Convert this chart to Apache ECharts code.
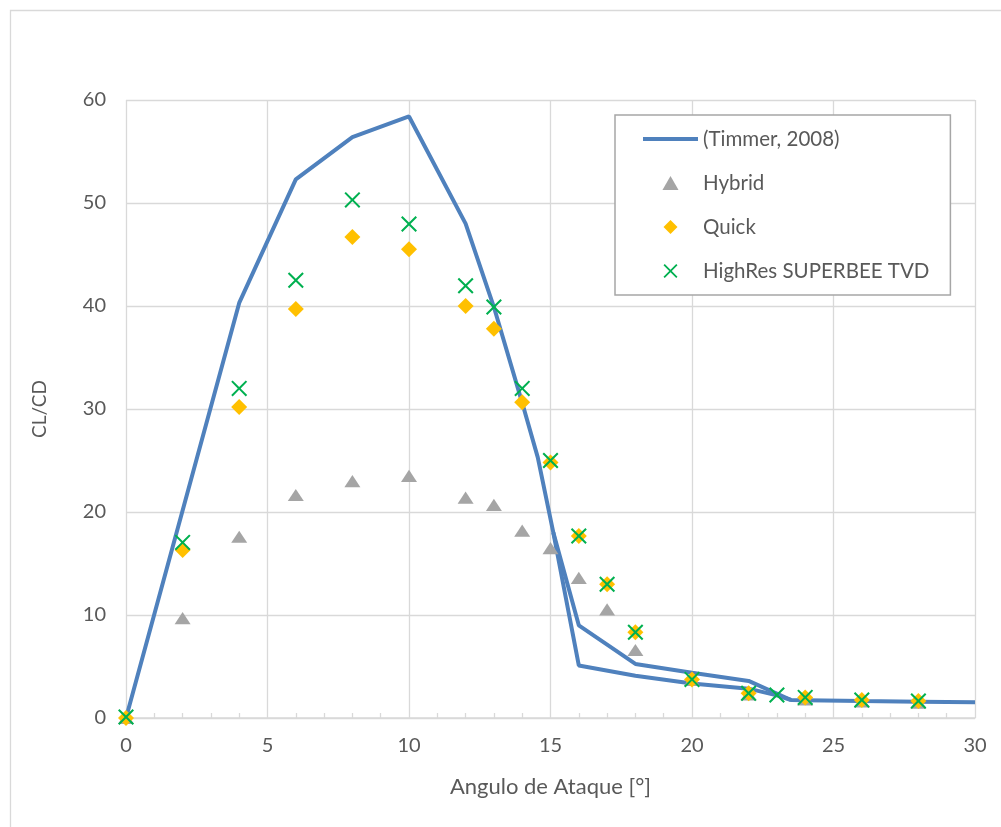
<!DOCTYPE html>
<html>
<head>
<meta charset="utf-8">
<script src="https://cdn.jsdelivr.net/npm/echarts@6/dist/echarts.min.js"></script>
<style>html,body{margin:0;padding:0;background:#fff}#c{width:1001px;height:827px}</style>
</head>
<body>
<div id="c"></div>
<script>
// Timmer (2008) reference curve: main branch and return branch of the loop
const timmerMain = [[0,0],[4,40.3],[6,52.3],[8,56.4],[10,58.4],[12,48.0],[13,39.9],[14,30.6],[14.55,25.3],[15.1,18.0],[16,9.0],[18,5.25],[20,4.4],[22,3.6],[23.5,1.75],[24,1.73],[26,1.65],[28,1.58],[30,1.52]];
const timmerLoop = [[15.1,18.0],[16,5.1],[18,4.1],[20,3.35],[22,2.85],[23,2.2],[23.5,1.75]];
const angles = [0,2,4,6,8,10,12,13,14,15,16,17,18,20,22,24,26,28];
const hybrid = [0,9.7,17.6,21.65,23.0,23.5,21.4,20.7,18.2,16.5,13.6,10.55,6.6,3.7,2.3,1.8,1.6,1.5];
const quick = [0,16.3,30.2,39.7,46.7,45.5,40.0,37.8,30.65,24.8,17.67,12.98,8.32,3.75,2.4,2.0,1.75,1.65];
const highAngles = [0,2,4,6,8,10,12,13,14,15,16,17,18,20,22,23,24,26,28];
const highres = [0.1,17.05,32.0,42.5,50.3,47.96,41.97,39.9,32.0,25.0,17.67,12.98,8.32,3.75,2.4,2.23,2.0,1.75,1.65];
const xTicks = [0,5,10,15,20,25,30];
const yTicks = [0,10,20,30,40,50,60];

const names = ['(Timmer, 2008)','Hybrid','Quick','HighRes SUPERBEE TVD'];
const FONT = 'Lato';
const TXT = '#595959';
const GRID = '#d9d9d9';
const xPath = 'path://M0,9 L9,0 L50,41 L91,0 L100,9 L59,50 L100,91 L91,100 L50,59 L9,100 L0,91 L41,50 Z';
const triPath = 'path://M50,0 L100,87 L0,87 Z';
const diaPath = 'path://M50,0 L100,50 L50,100 L0,50 Z';
const linePath = 'path://M0,0 H100 V7.3 H0 Z';

const chart = echarts.init(document.getElementById('c'), null, {renderer:'canvas'});
chart.setOption({
  animation:false,
  backgroundColor:'#fff',
  textStyle:{fontFamily:FONT},
  graphic:[{type:'rect',shape:{x:10.5,y:10.5,width:1010,height:840},style:{fill:'none',stroke:GRID,lineWidth:1.3},silent:true,z:-10}],
  grid:{left:126,right:26,top:100,bottom:109,containLabel:false},
  legend:{
    data:[{name:names[0],icon:linePath},{name:names[1],icon:triPath},{name:names[2],icon:diaPath},{name:names[3],icon:xPath}],
    orient:'vertical', left:615, top:115,
    padding:[13,21,13,28], itemGap:22, itemWidth:55, itemHeight:14,
    borderColor:'#a6a6a6', borderWidth:1.5, backgroundColor:'#fff',
    textStyle:{color:TXT,fontSize:20.5,fontFamily:FONT,lineHeight:22}
  },
  xAxis:{
    type:'value', min:xTicks[0], max:xTicks[xTicks.length-1], interval:5,
    name:'Angulo de Ataque [°]', nameLocation:'middle', nameGap:58,
    nameTextStyle:{color:TXT,fontSize:22,fontFamily:FONT},
    axisLine:{show:true,lineStyle:{color:GRID,width:1.5}},
    axisTick:{show:false,inside:true,length:5,lineStyle:{color:GRID}},
    minorTick:{show:true,splitNumber:5,length:5,lineStyle:{color:GRID,width:1.3}},
    axisLabel:{color:TXT,fontSize:20,margin:18,fontFamily:FONT},
    splitLine:{show:true,lineStyle:{color:GRID,width:1.3}}
  },
  yAxis:{
    type:'value', min:yTicks[0], max:yTicks[yTicks.length-1], interval:10,
    name:'CL/CD', nameLocation:'middle', nameGap:77, nameRotate:90,
    nameTextStyle:{color:TXT,fontSize:19,fontFamily:FONT},
    axisLine:{show:false}, axisTick:{show:false},
    axisLabel:{color:TXT,fontSize:20,margin:20,fontFamily:FONT},
    splitLine:{show:true,lineStyle:{color:GRID,width:1.3}}
  },
  series:[
    {name:names[0],type:'line',data:timmerMain,symbol:'none',symbolKeepAspect:true,lineStyle:{color:'#4f81bd',width:4},itemStyle:{color:'#4f81bd'},z:2},
    {name:names[0],type:'line',data:timmerLoop,symbol:'none',symbolKeepAspect:true,lineStyle:{color:'#4f81bd',width:4},itemStyle:{color:'#4f81bd'},z:2},
    {name:names[1],type:'scatter',data:angles.map((a,i)=>[a,hybrid[i]]),symbol:triPath,symbolSize:[16,14],symbolKeepAspect:true,itemStyle:{color:'#a5a5a5',opacity:1},clip:false,z:3},
    {name:names[2],type:'scatter',data:angles.map((a,i)=>[a,quick[i]]),symbol:diaPath,symbolSize:[16,16],symbolKeepAspect:true,itemStyle:{color:'#ffc000',opacity:1},clip:false,z:4},
    {name:names[3],type:'scatter',data:highAngles.map((a,i)=>[a,highres[i]]),symbol:xPath,symbolSize:16,symbolKeepAspect:true,itemStyle:{color:'#00b050',opacity:1},clip:false,z:5}
  ]
});
</script>
</body>
</html>
